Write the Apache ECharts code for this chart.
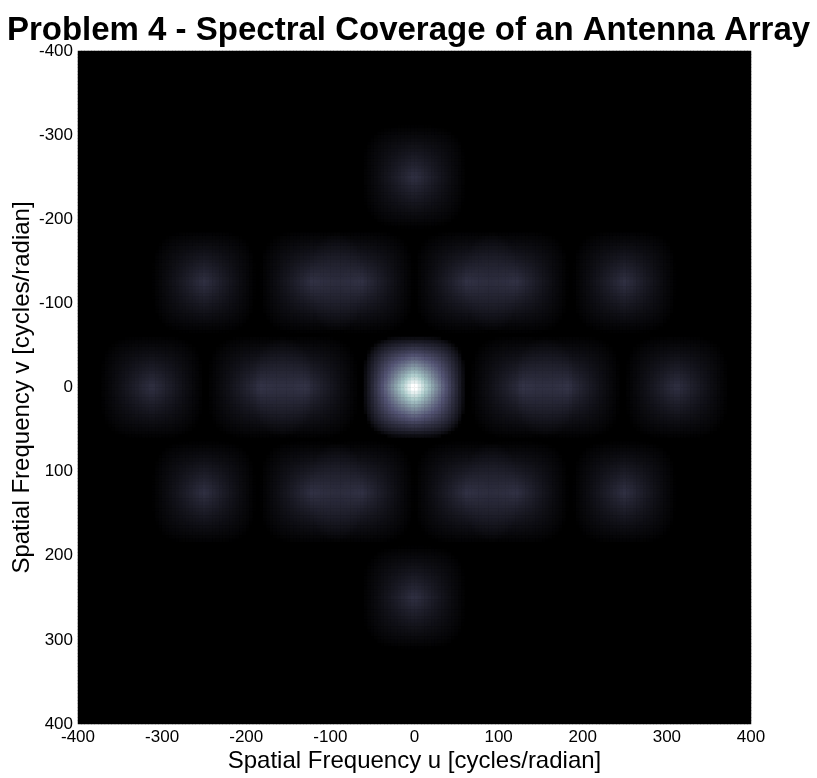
<!DOCTYPE html>
<html>
<head>
<meta charset="utf-8">
<title>Spectral Coverage of an Antenna Array</title>
<script src="https://cdn.jsdelivr.net/npm/echarts@6/dist/echarts.min.js"></script>
<style>
  html, body { margin: 0; padding: 0; background: #ffffff; }
  #chart { width: 817px; height: 778px; }
</style>
</head>
<body>
<div id="chart"></div>
<script>
// Antenna positions (in wavelengths) and the width of each aperture.
const antennaU = [-156, -28, 156, 94, 94];
const antennaV = [0, 0, 0, 125, -125];
const apertureSide = 61;
// Footprint of one baseline: a sharp separable core plus a rounded shoulder.
const coreWeight = 0.6;
const coreExponent = 1.5;
const shoulderExponent = 0.7;
const shoulderRoundness = 3.2;

// Axis range and tick labels.
const axisMin = -400;
const axisMax = 400;
const tickValues = [-400, -300, -200, -100, 0, 100, 200, 300, 400];

// Sampling of the uv plane.
const cellSize = 4;

// Bone colour map stops (0, 1/8, ..., 1).
const boneColors = ['#000000', '#1c1c27', '#38384d', '#545474', '#707a8f',
                    '#8ba1ab', '#a7c7c7', '#d3e3e3', '#ffffff'];

// Cell centres along each axis.
const cellCenters = [];
for (let c = axisMin + cellSize / 2; c < axisMax; c += cellSize) cellCenters.push(c);

// Baselines: every ordered antenna pair, including each antenna with itself.
const baselineU = [];
const baselineV = [];
for (let i = 0; i < antennaU.length; i++) {
  for (let j = 0; j < antennaU.length; j++) {
    baselineU.push(antennaU[i] - antennaU[j]);
    baselineV.push(antennaV[i] - antennaV[j]);
  }
}

function tri(x) {
  const a = Math.abs(x);
  return a < 1 ? 1 - a : 0;
}

// Coverage contributed by one baseline at offset (du, dv) from its centre.
function footprint(du, dv) {
  const x = du / apertureSide, y = dv / apertureSide;
  if (Math.abs(x) >= 1 || Math.abs(y) >= 1) return 0;
  const core = Math.pow(tri(x) * tri(y), coreExponent);
  const n = shoulderRoundness;
  const r = Math.pow(Math.pow(Math.abs(x), n) + Math.pow(Math.abs(y), n), 1 / n);
  const shoulder = r < 1 ? Math.pow(1 - r, shoulderExponent) : 0;
  return coreWeight * core + (1 - coreWeight) * shoulder;
}

const cells = [];
let peak = 0;
for (let yi = 0; yi < cellCenters.length; yi++) {
  for (let xi = 0; xi < cellCenters.length; xi++) {
    const u = cellCenters[xi], v = cellCenters[yi];
    let s = 0;
    for (let k = 0; k < baselineU.length; k++) {
      s += footprint(u - baselineU[k], v - baselineV[k]);
    }
    s /= antennaU.length;
    if (s > peak) peak = s;
    cells.push([xi, yi, s]);
  }
}

const font = '"Liberation Sans", Arial, Helvetica, sans-serif';
const chart = echarts.init(document.getElementById('chart'), null, { renderer: 'canvas' });

chart.setOption({
  animation: false,
  backgroundColor: '#ffffff',
  title: {
    text: 'Problem 4 - Spectral Coverage of an Antenna Array',
    left: 'center',
    top: 9,
    textStyle: { fontFamily: font, fontSize: 33, fontWeight: 'bold', color: '#000000' }
  },
  grid: {
    left: 78, top: 51, width: 673, height: 673,
    containLabel: false, outerBoundsMode: 'none',
    show: true, backgroundColor: '#000000', borderWidth: 0
  },
  xAxis: [
    { type: 'category', data: cellCenters, show: false, gridIndex: 0 },
    {
      type: 'value', min: axisMin, max: axisMax, interval: 100, position: 'bottom',
      name: 'Spatial Frequency u [cycles/radian]', nameLocation: 'middle', nameGap: 25,
      nameMoveOverlap: false,
      nameTextStyle: { fontFamily: font, fontSize: 24, color: '#000000' },
      axisLine: { show: false }, axisTick: { show: false }, splitLine: { show: false },
      axisLabel: {
        margin: 5, fontFamily: font, fontSize: 17, color: '#000000',
        customValues: tickValues, formatter: v => String(v)
      }
    }
  ],
  yAxis: [
    { type: 'category', data: cellCenters, show: false, inverse: true, gridIndex: 0 },
    {
      type: 'value', min: axisMin, max: axisMax, interval: 100, inverse: true, position: 'left',
      name: 'Spatial Frequency v [cycles/radian]', nameLocation: 'middle', nameGap: 44,
      nameMoveOverlap: false,
      nameTextStyle: { fontFamily: font, fontSize: 24, color: '#000000' },
      axisLine: { show: false }, axisTick: { show: false }, splitLine: { show: false },
      axisLabel: {
        margin: 5, fontFamily: font, fontSize: 17, color: '#000000',
        formatter: v => String(v)
      }
    }
  ],
  visualMap: {
    show: false, type: 'continuous', min: 0, max: peak, dimension: 2,
    inRange: { color: boneColors }
  },
  series: [{
    type: 'heatmap',
    xAxisIndex: 0, yAxisIndex: 0,
    data: cells,
    progressive: 0,
    emphasis: { disabled: true },
    itemStyle: { borderWidth: 0 }
  }]
});
</script>
</body>
</html>
